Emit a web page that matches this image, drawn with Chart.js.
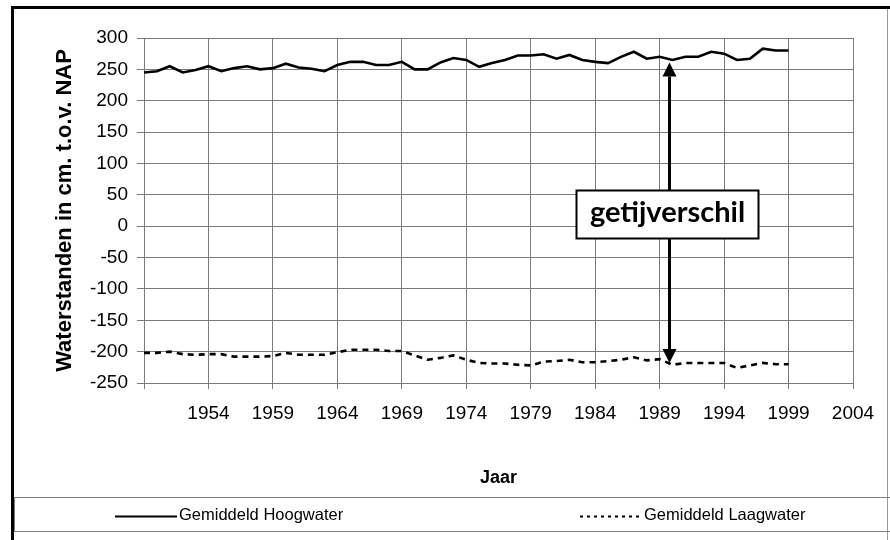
<!DOCTYPE html>
<html>
<head>
<meta charset="utf-8">
<script src="https://cdn.jsdelivr.net/npm/chart.js@4.4.1/dist/chart.umd.min.js"></script>
<style>
  html, body { margin: 0; padding: 0; background: #fff; }
  canvas { display: block; }
</style>
</head>
<body>
<canvas id="chart" width="890" height="540"></canvas>
<script>
// Gemiddeld hoog- en laagwater (cm t.o.v. NAP), 1949-1999
const years = [1949, 1950, 1951, 1952, 1953, 1954, 1955, 1956, 1957, 1958,
               1959, 1960, 1961, 1962, 1963, 1964, 1965, 1966, 1967, 1968,
               1969, 1970, 1971, 1972, 1973, 1974, 1975, 1976, 1977, 1978,
               1979, 1980, 1981, 1982, 1983, 1984, 1985, 1986, 1987, 1988,
               1989, 1990, 1991, 1992, 1993, 1994, 1995, 1996, 1997, 1998, 1999];
const hoogwater = [245, 247, 255, 245, 249, 255, 247, 252, 255, 250,
                   252, 259, 253, 251, 247, 257, 262, 262, 257, 257,
                   262, 250, 250, 261, 268, 265, 254, 260, 265, 272,
                   272, 274, 267, 273, 265, 262, 260, 270, 278, 267,
                   270, 265, 270, 270, 278, 275, 265, 267, 283, 280, 280];
const laagwater = [-202, -202, -200, -204, -205, -204, -204, -208, -208, -208,
                   -207, -202, -205, -205, -205, -201, -197, -197, -197, -199,
                   -199, -206, -213, -210, -206, -213, -218, -219, -219, -221,
                   -222, -216, -215, -213, -217, -217, -215, -213, -209, -214,
                   -212, -221, -218, -218, -218, -218, -226, -222, -218, -220, -220];
const seriesNames = ['Gemiddeld Hoogwater', 'Gemiddeld Laagwater'];

// getijverschil pijl (in data-eenheden)
const arrowYear = 1989.7;
const arrowTop = 261;
const arrowBottom = -218;
const labelValue = 19;
const labelText = 'getijverschil';

const FONT = "'Liberation Sans', Arial, sans-serif";

function points(values) {
    return years.map((yr, i) => ({ x: yr, y: values[i] }));
}

const framePlugin = {
    id: 'frame',
    beforeDraw(chart) {
        const ctx = chart.ctx;
        ctx.save();
        ctx.fillStyle = '#fff';
        ctx.fillRect(0, 0, chart.width, chart.height);
        ctx.strokeStyle = '#000';
        ctx.lineWidth = 3;
        ctx.beginPath();
        ctx.moveTo(12.5, chart.height);
        ctx.lineTo(12.5, 7.5);
        ctx.lineTo(chart.width, 7.5);
        ctx.stroke();
        ctx.strokeStyle = '#999';
        ctx.lineWidth = 1;
        ctx.beginPath();
        ctx.moveTo(887.5, 9);
        ctx.lineTo(887.5, chart.height);
        ctx.stroke();
        ctx.restore();
    }
};

const arrowPlugin = {
    id: 'getijArrow',
    afterDatasetsDraw(chart) {
        const { ctx, scales: { x, y } } = chart;
        const ax = Math.round(x.getPixelForValue(arrowYear)) + 0.5;
        const top = y.getPixelForValue(arrowTop);
        const bottom = y.getPixelForValue(arrowBottom);
        const cy = y.getPixelForValue(labelValue);
        const head = 14, half = 7;

        ctx.save();
        ctx.strokeStyle = '#000';
        ctx.fillStyle = '#000';
        ctx.lineWidth = 3;
        ctx.beginPath();
        ctx.moveTo(ax, top + head);
        ctx.lineTo(ax, bottom - head);
        ctx.stroke();
        ctx.beginPath();
        ctx.moveTo(ax, top);
        ctx.lineTo(ax - half, top + head);
        ctx.lineTo(ax + half, top + head);
        ctx.closePath();
        ctx.fill();
        ctx.beginPath();
        ctx.moveTo(ax, bottom);
        ctx.lineTo(ax - half, bottom - head);
        ctx.lineTo(ax + half, bottom - head);
        ctx.closePath();
        ctx.fill();

        const bw = 182, bh = 48;
        const bx = Math.round(ax - 94) + 0.5, by = Math.round(cy - bh / 2) + 0.5;
        ctx.fillStyle = '#fff';
        ctx.fillRect(bx, by, bw, bh);
        ctx.lineWidth = 2;
        ctx.strokeRect(bx, by, bw, bh);
        ctx.fillStyle = '#000';
        ctx.font = "bold 29px Lato, 'Open Sans', sans-serif";
        ctx.textAlign = 'center';
        ctx.textBaseline = 'middle';
        ctx.fillText(labelText, bx + bw / 2, by + bh / 2 - 2);
        ctx.restore();
    }
};

const legendPlugin = {
    id: 'boxLegend',
    afterDraw(chart) {
        const ctx = chart.ctx;
        const top = 497.5, h = 34;
        ctx.save();
        ctx.strokeStyle = '#808080';
        ctx.lineWidth = 1;
        ctx.strokeRect(14.5, top, 880, h);
        const midY = top + h / 2 + 1;
        const starts = [115, 580];
        ctx.font = '16.5px ' + FONT;
        ctx.textBaseline = 'middle';
        ctx.textAlign = 'left';
        chart.data.datasets.forEach((ds, i) => {
            const sx = starts[i];
            ctx.strokeStyle = ds.borderColor;
            ctx.lineWidth = 2;
            ctx.setLineDash(i === 1 ? [3, 4] : []);
            ctx.beginPath();
            ctx.moveTo(sx, Math.round(midY) + 0.5);
            ctx.lineTo(sx + 62, Math.round(midY) + 0.5);
            ctx.stroke();
            ctx.setLineDash([]);
            ctx.fillStyle = '#000';
            ctx.fillText(ds.label, sx + 64, midY);
        });
        ctx.restore();
    }
};

new Chart(document.getElementById('chart'), {
    type: 'line',
    data: {
        datasets: [
            {
                label: seriesNames[0],
                data: points(hoogwater),
                borderColor: '#000',
                borderWidth: 2.6,
                pointRadius: 0,
                tension: 0
            },
            {
                label: seriesNames[1],
                data: points(laagwater),
                borderColor: '#000',
                borderWidth: 2.6,
                borderDash: [6, 5],
                pointRadius: 0,
                tension: 0
            }
        ]
    },
    options: {
        responsive: false,
        animation: false,
        layout: {
            padding: { left: 14, top: 38, right: 37, bottom: 50 }
        },
        plugins: {
            legend: { display: false },
            tooltip: { enabled: false }
        },
        scales: {
            x: {
                type: 'linear',
                min: 1949,
                max: 2004,
                afterFit: (scale) => { scale.height = 107; },
                ticks: {
                    stepSize: 5,
                    color: '#000',
                    font: { family: FONT, size: 19 },
                    padding: 13,
                    maxRotation: 0,
                    callback: (v) => (v === 1949 ? '' : String(v))
                },
                grid: { color: '#7a7a7a', lineWidth: 1, tickLength: 6 },
                border: { color: '#7a7a7a' },
                title: {
                    display: true,
                    text: 'Jaar',
                    color: '#000',
                    font: { family: FONT, size: 18, weight: 'bold' },
                    padding: { top: 0, bottom: 1 }
                }
            },
            y: {
                min: -250,
                max: 300,
                afterFit: (scale) => { scale.width = 130; },
                ticks: {
                    stepSize: 50,
                    color: '#000',
                    font: { family: FONT, size: 19 },
                    padding: 9
                },
                grid: { color: '#7a7a7a', lineWidth: 1, tickLength: 7 },
                border: { color: '#7a7a7a' },
                title: {
                    display: true,
                    text: 'Waterstanden in cm. t.o.v. NAP',
                    color: '#000',
                    font: { family: FONT, size: 22, weight: 'bold' },
                    padding: { top: 38, bottom: 0 }
                }
            }
        }
    },
    plugins: [framePlugin, arrowPlugin, legendPlugin]
});
</script>
</body>
</html>
